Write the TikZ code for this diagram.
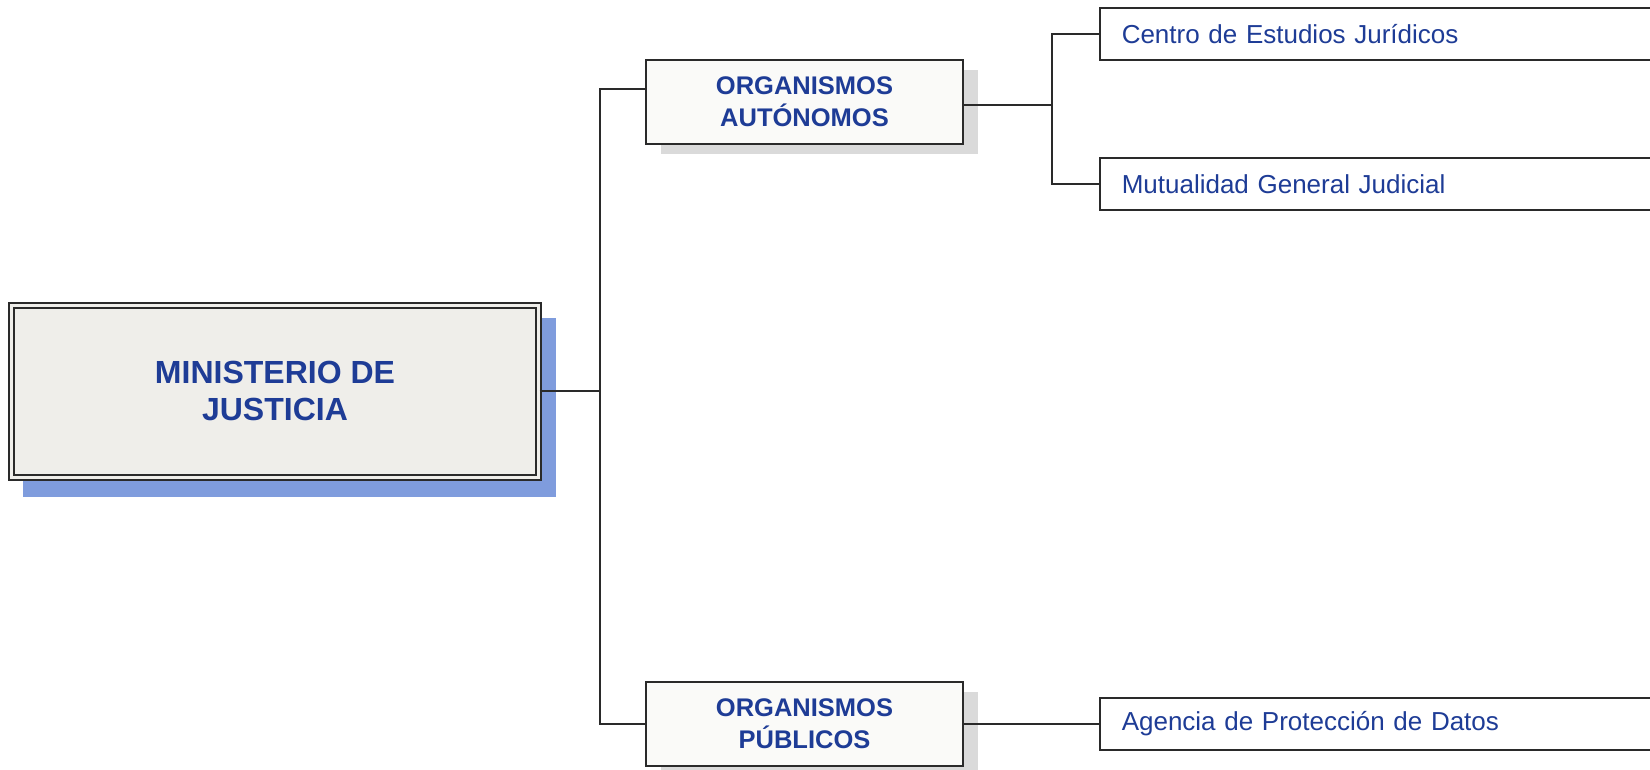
\documentclass[tikz,border=0pt]{standalone}
\usepackage{fontspec}
\setmainfont{Liberation Sans}
\definecolor{txtblue}{HTML}{1E3C96}
\definecolor{shblue}{HTML}{7F9CDD}
\definecolor{shgrey}{HTML}{DADADA}
\definecolor{mainfill}{HTML}{EFEEEA}
\definecolor{orgfill}{HTML}{FAFAF8}
\definecolor{linec}{HTML}{2A2A2A}
\tikzset{
  mainbox/.style={draw=linec, line width=2pt, double=mainfill, double distance=3pt,
    fill=mainfill, minimum width=527pt, minimum height=172pt, inner sep=0pt,
    align=center, text=txtblue, font=\bfseries\fontsize{32}{37}\selectfont},
  orgbox/.style={draw=linec, line width=1.5pt, fill=orgfill, minimum width=317pt,
    minimum height=84pt, inner sep=0pt, align=center, text=txtblue,
    font=\bfseries\fontsize{25.5}{32}\selectfont},
  leafbox/.style={draw=linec, line width=1.5pt, fill=white, anchor=west,
    minimum width=580pt, minimum height=52pt, text width=536pt, inner xsep=22pt,
    inner ysep=0pt, align=left, text=txtblue, font=\fontsize{26}{30}\selectfont},
  conn/.style={draw=linec, line width=2pt}
}
\begin{document}
\begin{tikzpicture}[x=1pt,y=-1pt]
\clip (0,0) rectangle (1650,770);
\fill[white] (0,0) rectangle (1650,770);
% shadows
\fill[shblue] (23,318) rectangle (556,497);
\fill[shgrey] (661,70) rectangle (978,154);
\fill[shgrey] (661,692) rectangle (978,775);
% nodes
\node[mainbox] (min) at (275,391) {MINISTERIO DE\\JUSTICIA};
\node[orgbox] (oa) at (804.5,102) {ORGANISMOS\\AUTÓNOMOS};
\node[orgbox] (op) at (804.5,724) {ORGANISMOS\\PÚBLICOS};
\node[leafbox] (ce) at (1099,34) {Centro de Estudios Jurídicos};
\node[leafbox] (mg) at (1099,184) {Mutualidad General Judicial};
\node[leafbox] (ap) at (1099,724) {Agencia de Protección de Datos};
% connectors
\coordinate (trunk) at (600,391);
\coordinate (j2) at (1052,105);
\draw[conn] (min.east) -- (trunk);
\draw[conn] ([yshift=13pt]oa.west) -| (trunk);
\draw[conn] (op.west) -| (trunk);
\draw[conn] ([yshift=-3pt]oa.east) -- (j2);
\draw[conn] (ce.west) -| (j2);
\draw[conn] (mg.west) -| (j2);
\draw[conn] (op.east) -- (ap.west);
\end{tikzpicture}
\end{document}
